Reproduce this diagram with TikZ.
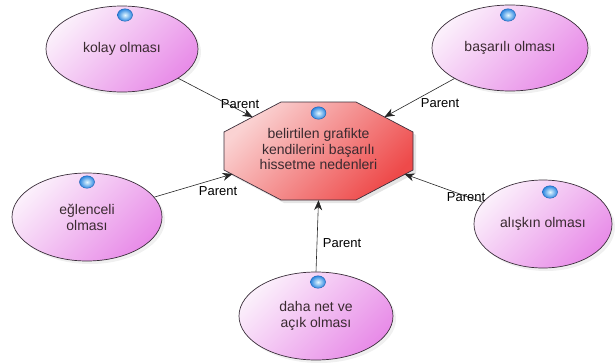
\documentclass[tikz,border=0pt]{standalone}
\usepackage{fontspec}
\setmainfont{Liberation Sans}
\usetikzlibrary{shapes.geometric,arrows.meta,calc,shadows}
\definecolor{edgedark}{HTML}{3A2E3A}
\definecolor{txt}{HTML}{3A2A30}
\definecolor{elllight}{HTML}{FBEFFB}
\definecolor{elldark}{HTML}{E88CE8}
\definecolor{octlight}{HTML}{FAD2D2}
\definecolor{octdark}{HTML}{EE4A4A}
\definecolor{knobcore}{HTML}{E4F8FF}
\definecolor{knobrim}{HTML}{2C86E0}
\definecolor{knobline}{HTML}{2060B0}
\tikzset{
  reason/.style={ellipse, draw=edgedark, line width=0.7pt,
    minimum width=152pt, minimum height=86pt, inner sep=0pt,
    top color=elllight, bottom color=elldark, shading angle=45,
    drop shadow={opacity=0.12, shadow xshift=3pt, shadow yshift=-3pt},
    align=center, text=txt, font=\fontsize{14}{16}\selectfont},
  knob/.style={ellipse, draw=knobline, line width=0.4pt, minimum width=15pt,
    minimum height=12.5pt, inner sep=0pt, inner color=knobcore, outer color=knobrim},
  link/.style={draw=black!85, line width=0.6pt,
    -{Stealth[length=10pt,width=8pt]}},
  tag/.style={font=\fontsize{13}{15}\selectfont, text=black, inner sep=1pt}
}
\begin{document}
\begin{tikzpicture}[x=1pt,y=-1pt]
\useasboundingbox (0,0) rectangle (616,362);

% central octagon
\node[minimum width=189pt, minimum height=98pt, inner sep=0pt] (core) at (318.5,151) {};
\coordinate (o1) at ($(core.center)+(-37.5,-49)$);
\coordinate (o2) at ($(core.center)+(37.5,-49)$);
\coordinate (o3) at ($(core.center)+(94.5,-19)$);
\coordinate (o4) at ($(core.center)+(94.5,19)$);
\coordinate (o5) at ($(core.center)+(37.5,49)$);
\coordinate (o6) at ($(core.center)+(-37.5,49)$);
\coordinate (o7) at ($(core.center)+(-94.5,19)$);
\coordinate (o8) at ($(core.center)+(-94.5,-19)$);
\fill[black, opacity=0.1] ($(o1)+(3,3)$) -- ($(o2)+(3,3)$) -- ($(o3)+(3,3)$) -- ($(o4)+(3,3)$)
  -- ($(o5)+(3,3)$) -- ($(o6)+(3,3)$) -- ($(o7)+(3,3)$) -- ($(o8)+(3,3)$) -- cycle;
\shade[top color=octlight, bottom color=octdark, shading angle=45]
  (o1) -- (o2) -- (o3) -- (o4) -- (o5) -- (o6) -- (o7) -- (o8) -- cycle;
\draw[edgedark, line width=0.7pt]
  (o1) -- (o2) -- (o3) -- (o4) -- (o5) -- (o6) -- (o7) -- (o8) -- cycle;
\node[align=center, text=txt, font=\fontsize{14}{15.5}\selectfont] (coretext) at (318.5,149)
  {belirtilen grafikte\\kendilerini başarılı\\hissetme nedenleri};
\node[knob] (coreknob) at (318.5,113) {};

% points where the connectors meet the octagon
\coordinate (in-nw) at ($(core.center)+(-66,-34)$);
\coordinate (in-ne) at ($(core.center)+(66,-34)$);
\coordinate (in-sw) at ($(core.center)+(-86,23)$);
\coordinate (in-se) at ($(core.center)+(86,23)$);
\coordinate (in-s) at (core.south);

% surrounding reasons
\node[reason] (kolay) at (122,49) {kolay olması};
\node[reason, minimum width=156pt] (basarili) at (510,48) {başarılı olması};
\node[reason, minimum width=150pt, minimum height=88pt] (egl) at (87,217) {eğlenceli\\olması};
\node[reason, minimum width=138pt, minimum height=88pt] (alis) at (543,224) {alışkın olması};
\node[reason, minimum width=154pt, minimum height=88pt] (daha) at (316,316) {daha net ve\\açık olması};

\node[knob] (k1) at (125,15) {};
\node[knob] (k2) at (508,15) {};
\node[knob] (k3) at (87,182) {};
\node[knob] (k4) at (550,192) {};
\node[knob] (k5) at (318,282) {};

% connectors
\draw[link] (kolay) -- (in-nw);
\draw[link] (basarili) -- (in-ne);
\draw[link] (egl) -- (in-sw);
\draw[link] (alis) -- (in-se);
\draw[link] (daha.north) -- (in-s);

\node[tag] (t1) at (240,104) {Parent};
\node[tag] (t2) at (440,103) {Parent};
\node[tag] (t3) at (218,191) {Parent};
\node[tag] (t4) at (466,197) {Parent};
\node[tag] (t5) at (342,243) {Parent};
\end{tikzpicture}
\end{document}
